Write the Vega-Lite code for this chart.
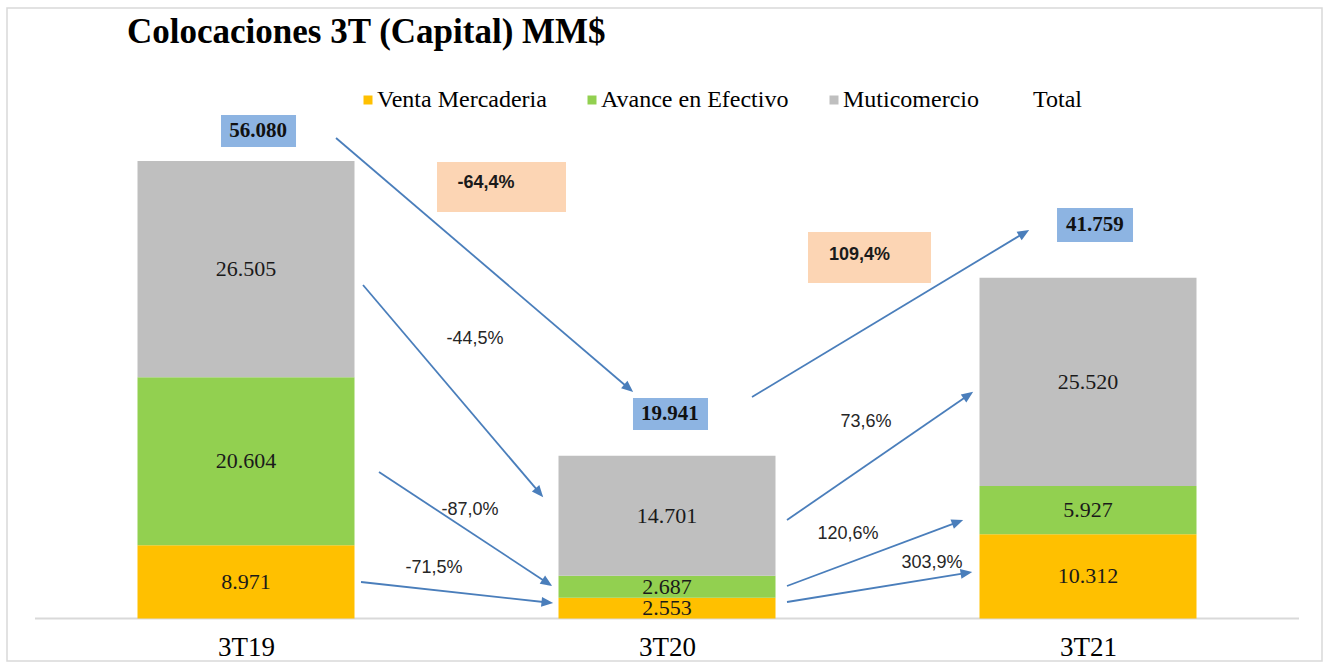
{
  "$schema": "https://vega.github.io/schema/vega-lite/v6.json",
  "width": 1315,
  "height": 653,
  "autosize": "none",
  "padding": {"left": 7, "top": 8, "right": 2, "bottom": 2},
  "background": "white",
  "config": {
    "view": {"stroke": "#D9D9D9", "strokeWidth": 1.5},
    "locale": {"number": {"decimal": ",", "thousands": ".", "grouping": [3], "currency": ["$", ""], "minus": "-", "percent": "%"}},
    "font": "Liberation Serif"
  },
  "title": {
    "text": "Colocaciones 3T  (Capital) MM$",
    "anchor": "start",
    "frame": "group",
    "font": "Liberation Serif",
    "fontSize": 35,
    "fontWeight": "bold",
    "color": "#000000",
    "baseline": "alphabetic",
    "offset": 0,
    "dx": 120,
    "dy": 70
  },
  "datasets": {
    "barras": [
      {"periodo": "3T19", "idx": 1, "serie": "Venta Mercaderia", "orden": 1, "valor": 8971},
      {"periodo": "3T19", "idx": 1, "serie": "Avance en Efectivo", "orden": 2, "valor": 20604},
      {"periodo": "3T19", "idx": 1, "serie": "Muticomercio", "orden": 3, "valor": 26505},
      {"periodo": "3T20", "idx": 2, "serie": "Venta Mercaderia", "orden": 1, "valor": 2553},
      {"periodo": "3T20", "idx": 2, "serie": "Avance en Efectivo", "orden": 2, "valor": 2687},
      {"periodo": "3T20", "idx": 2, "serie": "Muticomercio", "orden": 3, "valor": 14701},
      {"periodo": "3T21", "idx": 3, "serie": "Venta Mercaderia", "orden": 1, "valor": 10312},
      {"periodo": "3T21", "idx": 3, "serie": "Avance en Efectivo", "orden": 2, "valor": 5927},
      {"periodo": "3T21", "idx": 3, "serie": "Muticomercio", "orden": 3, "valor": 25520}
    ],
    "flechas": [
      {"serie": "Total", "x1": 1.2138, "y1": 58885, "x2": 1.9102, "y2": 28162, "ang": 130.5},
      {"serie": "Muticomercio", "x1": 1.2779, "y1": 40870, "x2": 1.6979, "y2": 15355, "ang": 139.7, "var": -0.445, "lx": 1.5439, "ly": 34252},
      {"serie": "Avance en Efectivo", "x1": 1.3159, "y1": 17953, "x2": 1.7169, "y2": 4326, "ang": 123.4, "var": -0.87, "lx": 1.5321, "ly": 13297},
      {"serie": "Venta Mercaderia", "x1": 1.2732, "y1": 4473, "x2": 1.7173, "y2": 1961, "ang": 96.2, "var": -0.715, "lx": 1.4466, "ly": 6189},
      {"serie": "Total", "x1": 2.2019, "y1": 27145, "x2": 2.8496, "y2": 47292, "ang": 58.9},
      {"serie": "Muticomercio", "x1": 2.285, "y1": 12071, "x2": 2.7171, "y2": 27414, "ang": 55.5, "var": 0.736, "lx": 2.4727, "ly": 24081},
      {"serie": "Avance en Efectivo", "x1": 2.285, "y1": 3983, "x2": 2.6919, "y2": 11851, "ang": 69.4, "var": 1.206, "lx": 2.4299, "ly": 10355},
      {"serie": "Venta Mercaderia", "x1": 2.285, "y1": 2022, "x2": 2.7128, "y2": 5600, "ang": 80.8, "var": 3.039, "lx": 2.6295, "ly": 6801}
    ],
    "totales": [
      {"periodo": "3T19", "total": 56080, "bx0": 0.9406, "bx1": 1.1188, "by0": 57782, "by1": 61703, "tx": 1.0285, "ty": 59743},
      {"periodo": "3T20", "total": 19941, "bx0": 1.9192, "bx1": 2.0974, "by0": 23100, "by1": 27022, "tx": 2.0071, "ty": 25061},
      {"periodo": "3T21", "total": 41759, "bx0": 2.9264, "bx1": 3.1069, "by0": 46140, "by1": 50306, "tx": 3.0166, "ty": 48223}
    ],
    "variaciones": [
      {"tramo": "3T19-3T20", "var": -0.644, "bx0": 1.4537, "bx1": 1.7601, "by0": 49816, "by1": 55944, "tx": 1.5701, "ty": 53366},
      {"tramo": "3T20-3T21", "var": 1.094, "bx0": 2.3349, "bx1": 2.6271, "by0": 41113, "by1": 47365, "tx": 2.4572, "ty": 44547}
    ]
  },
  "layer": [
    {
      "data": {"values": [{}]},
      "mark": {"type": "rule", "color": "#D9D9D9", "strokeWidth": 2},
      "encoding": {
        "x": {
          "datum": 0.4988, "type": "quantitative",
          "scale": {"domain": [0.4323, 3.5558], "nice": false, "zero": false, "padding": 0},
          "axis": {
            "values": [1, 2, 3],
            "labelExpr": "datum.value == 1 ? '3T19' : datum.value == 2 ? '3T20' : '3T21'",
            "domain": false, "ticks": false, "tickSize": 0, "grid": false,
            "labelFont": "Liberation Serif", "labelFontSize": 27, "labelColor": "#000000",
            "labelPadding": -27, "offset": 0, "title": null, "labelFlush": false, "labelOverlap": false,
            "labelBaseline": "top"
          }
        },
        "x2": {"datum": 3.5012},
        "y": {"datum": 0, "type": "quantitative", "scale": {"domain": [-5208, 74816], "nice": false, "zero": false}, "axis": null}
      }
    },
    {
      "data": {"name": "barras"},
      "transform": [
        {"stack": "valor", "groupby": ["idx"], "sort": [{"field": "orden", "order": "ascending"}], "as": ["v0", "v1"]},
        {"calculate": "(datum.v0 + datum.v1) / 2", "as": "vmid"}
      ],
      "layer": [
        {
          "mark": {"type": "bar", "size": 217},
          "encoding": {
            "x": {"field": "idx", "type": "quantitative", "scale": {"domain": [0.4323, 3.5558], "nice": false, "zero": false, "padding": 0}},
            "y": {"field": "v0", "type": "quantitative", "scale": {"domain": [-5208, 74816], "nice": false, "zero": false}, "axis": null},
            "y2": {"field": "v1"},
            "color": {
              "field": "serie", "type": "nominal",
              "scale": {
                "domain": ["Venta Mercaderia", "Avance en Efectivo", "Muticomercio", "Total"],
                "range": ["#FFC000", "#92D050", "#BFBFBF", "rgba(255,255,255,0)"]
              },
              "legend": {
                "orient": "none", "legendX": 349, "legendY": 80, "direction": "horizontal",
                "title": null, "symbolType": "square", "symbolSize": 81, "symbolStrokeWidth": 0,
                "labelFont": "Liberation Serif", "labelFontSize": 24, "labelColor": "#000000", "labelLimit": 500,
                "columnPadding": 33, "labelOffset": -3, "padding": 0
              }
            }
          }
        },
        {
          "mark": {"type": "text", "font": "Liberation Serif", "fontSize": 22, "color": "#1a1a1a", "baseline": "middle"},
          "encoding": {
            "x": {"field": "idx", "type": "quantitative", "scale": {"domain": [0.4323, 3.5558], "nice": false, "zero": false, "padding": 0}},
            "y": {"field": "vmid", "type": "quantitative", "scale": {"domain": [-5208, 74816], "nice": false, "zero": false}, "axis": null},
            "text": {"field": "valor", "type": "quantitative", "format": ",.0f"}
          }
        }
      ]
    },
    {
      "data": {"name": "flechas"},
      "layer": [
        {
          "mark": {"type": "rule", "color": "#4A7EBB", "strokeWidth": 1.8},
          "encoding": {
            "x": {"field": "x1", "type": "quantitative", "scale": {"domain": [0.4323, 3.5558], "nice": false, "zero": false, "padding": 0}},
            "y": {"field": "y1", "type": "quantitative", "scale": {"domain": [-5208, 74816], "nice": false, "zero": false}, "axis": null},
            "x2": {"field": "x2"},
            "y2": {"field": "y2"}
          }
        },
        {
          "mark": {"type": "point", "shape": "M0,-0.8L-0.75,1L0.75,1Z", "filled": true, "color": "#4A7EBB", "size": 169, "opacity": 1, "strokeWidth": 0},
          "encoding": {
            "x": {"field": "x2", "type": "quantitative", "scale": {"domain": [0.4323, 3.5558], "nice": false, "zero": false, "padding": 0}},
            "y": {"field": "y2", "type": "quantitative", "scale": {"domain": [-5208, 74816], "nice": false, "zero": false}, "axis": null},
            "angle": {"field": "ang", "type": "quantitative", "scale": null}
          }
        },
        {
          "transform": [{"filter": "isValid(datum.lx)"}],
          "mark": {"type": "text", "font": "Liberation Sans", "fontSize": 18, "color": "#262626", "baseline": "middle"},
          "encoding": {
            "x": {"field": "lx", "type": "quantitative", "scale": {"domain": [0.4323, 3.5558], "nice": false, "zero": false, "padding": 0}},
            "y": {"field": "ly", "type": "quantitative", "scale": {"domain": [-5208, 74816], "nice": false, "zero": false}, "axis": null},
            "text": {"field": "var", "type": "quantitative", "format": ".1%"}
          }
        }
      ]
    },
    {
      "data": {"name": "totales"},
      "layer": [
        {
          "mark": {"type": "rect", "color": "#8DB4E2"},
          "encoding": {
            "x": {"field": "bx0", "type": "quantitative", "scale": {"domain": [0.4323, 3.5558], "nice": false, "zero": false, "padding": 0}},
            "x2": {"field": "bx1"},
            "y": {"field": "by0", "type": "quantitative", "scale": {"domain": [-5208, 74816], "nice": false, "zero": false}, "axis": null},
            "y2": {"field": "by1"}
          }
        },
        {
          "mark": {"type": "text", "font": "Liberation Serif", "fontSize": 21, "fontWeight": "bold", "color": "#111111", "baseline": "middle"},
          "encoding": {
            "x": {"field": "tx", "type": "quantitative", "scale": {"domain": [0.4323, 3.5558], "nice": false, "zero": false, "padding": 0}},
            "y": {"field": "ty", "type": "quantitative", "scale": {"domain": [-5208, 74816], "nice": false, "zero": false}, "axis": null},
            "text": {"field": "total", "type": "quantitative", "format": ",.0f"}
          }
        }
      ]
    },
    {
      "data": {"name": "variaciones"},
      "layer": [
        {
          "mark": {"type": "rect", "color": "#FCD5B4"},
          "encoding": {
            "x": {"field": "bx0", "type": "quantitative", "scale": {"domain": [0.4323, 3.5558], "nice": false, "zero": false, "padding": 0}},
            "x2": {"field": "bx1"},
            "y": {"field": "by0", "type": "quantitative", "scale": {"domain": [-5208, 74816], "nice": false, "zero": false}, "axis": null},
            "y2": {"field": "by1"}
          }
        },
        {
          "mark": {"type": "text", "font": "Liberation Sans", "fontSize": 18, "fontWeight": "bold", "color": "#1a1a1a", "baseline": "middle"},
          "encoding": {
            "x": {"field": "tx", "type": "quantitative", "scale": {"domain": [0.4323, 3.5558], "nice": false, "zero": false, "padding": 0}},
            "y": {"field": "ty", "type": "quantitative", "scale": {"domain": [-5208, 74816], "nice": false, "zero": false}, "axis": null},
            "text": {"field": "var", "type": "quantitative", "format": ".1%"}
          }
        }
      ]
    }
  ]
}
